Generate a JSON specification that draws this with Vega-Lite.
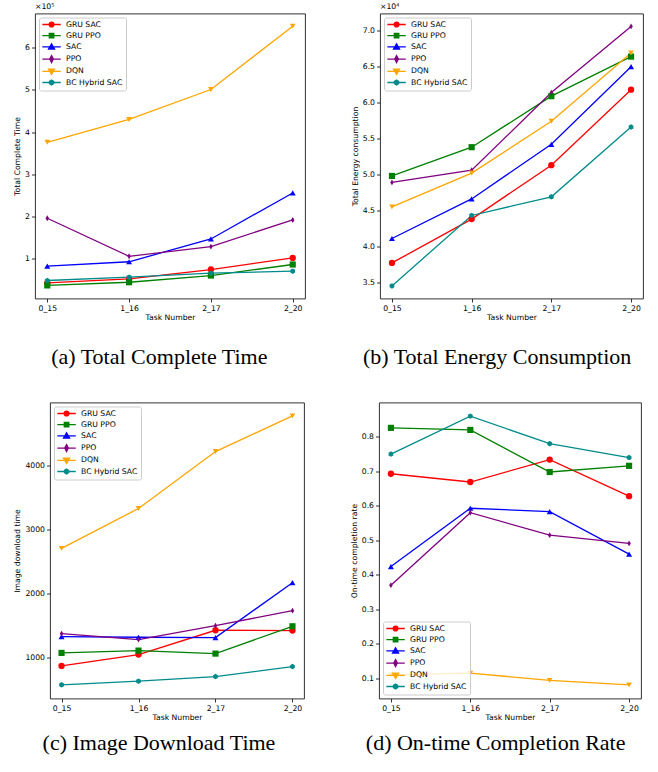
{
  "$schema": "https://vega.github.io/schema/vega-lite/v6.json",
  "padding": {"left": 12, "top": 2.5, "right": 0, "bottom": 0},
  "data": {"values": [
    {"panel":"a","model":"GRU SAC","task":"0_15","value":0.430},
    {"panel":"a","model":"GRU SAC","task":"1_16","value":0.526},
    {"panel":"a","model":"GRU SAC","task":"2_17","value":0.746},
    {"panel":"a","model":"GRU SAC","task":"2_20","value":1.020},
    {"panel":"a","model":"GRU PPO","task":"0_15","value":0.370},
    {"panel":"a","model":"GRU PPO","task":"1_16","value":0.445},
    {"panel":"a","model":"GRU PPO","task":"2_17","value":0.604},
    {"panel":"a","model":"GRU PPO","task":"2_20","value":0.865},
    {"panel":"a","model":"SAC","task":"0_15","value":0.826},
    {"panel":"a","model":"SAC","task":"1_16","value":0.930},
    {"panel":"a","model":"SAC","task":"2_17","value":1.470},
    {"panel":"a","model":"SAC","task":"2_20","value":2.560},
    {"panel":"a","model":"PPO","task":"0_15","value":1.960},
    {"panel":"a","model":"PPO","task":"1_16","value":1.060},
    {"panel":"a","model":"PPO","task":"2_17","value":1.290},
    {"panel":"a","model":"PPO","task":"2_20","value":1.920},
    {"panel":"a","model":"DQN","task":"0_15","value":3.760},
    {"panel":"a","model":"DQN","task":"1_16","value":4.300},
    {"panel":"a","model":"DQN","task":"2_17","value":5.010},
    {"panel":"a","model":"DQN","task":"2_20","value":6.510},
    {"panel":"a","model":"BC Hybrid SAC","task":"0_15","value":0.486},
    {"panel":"a","model":"BC Hybrid SAC","task":"1_16","value":0.564},
    {"panel":"a","model":"BC Hybrid SAC","task":"2_17","value":0.660},
    {"panel":"a","model":"BC Hybrid SAC","task":"2_20","value":0.706},
    {"panel":"b","model":"GRU SAC","task":"0_15","value":3.77},
    {"panel":"b","model":"GRU SAC","task":"1_16","value":4.38},
    {"panel":"b","model":"GRU SAC","task":"2_17","value":5.13},
    {"panel":"b","model":"GRU SAC","task":"2_20","value":6.18},
    {"panel":"b","model":"GRU PPO","task":"0_15","value":4.98},
    {"panel":"b","model":"GRU PPO","task":"1_16","value":5.38},
    {"panel":"b","model":"GRU PPO","task":"2_17","value":6.09},
    {"panel":"b","model":"GRU PPO","task":"2_20","value":6.64},
    {"panel":"b","model":"SAC","task":"0_15","value":4.11},
    {"panel":"b","model":"SAC","task":"1_16","value":4.66},
    {"panel":"b","model":"SAC","task":"2_17","value":5.42},
    {"panel":"b","model":"SAC","task":"2_20","value":6.50},
    {"panel":"b","model":"PPO","task":"0_15","value":4.89},
    {"panel":"b","model":"PPO","task":"1_16","value":5.06},
    {"panel":"b","model":"PPO","task":"2_17","value":6.14},
    {"panel":"b","model":"PPO","task":"2_20","value":7.06},
    {"panel":"b","model":"DQN","task":"0_15","value":4.55},
    {"panel":"b","model":"DQN","task":"1_16","value":5.02},
    {"panel":"b","model":"DQN","task":"2_17","value":5.74},
    {"panel":"b","model":"DQN","task":"2_20","value":6.69},
    {"panel":"b","model":"BC Hybrid SAC","task":"0_15","value":3.45},
    {"panel":"b","model":"BC Hybrid SAC","task":"1_16","value":4.43},
    {"panel":"b","model":"BC Hybrid SAC","task":"2_17","value":4.69},
    {"panel":"b","model":"BC Hybrid SAC","task":"2_20","value":5.66},
    {"panel":"c","model":"GRU SAC","task":"0_15","value":875},
    {"panel":"c","model":"GRU SAC","task":"1_16","value":1052},
    {"panel":"c","model":"GRU SAC","task":"2_17","value":1431},
    {"panel":"c","model":"GRU SAC","task":"2_20","value":1426},
    {"panel":"c","model":"GRU PPO","task":"0_15","value":1078},
    {"panel":"c","model":"GRU PPO","task":"1_16","value":1114},
    {"panel":"c","model":"GRU PPO","task":"2_17","value":1067},
    {"panel":"c","model":"GRU PPO","task":"2_20","value":1493},
    {"panel":"c","model":"SAC","task":"0_15","value":1332},
    {"panel":"c","model":"SAC","task":"1_16","value":1322},
    {"panel":"c","model":"SAC","task":"2_17","value":1317},
    {"panel":"c","model":"SAC","task":"2_20","value":2173},
    {"panel":"c","model":"PPO","task":"0_15","value":1379},
    {"panel":"c","model":"PPO","task":"1_16","value":1285},
    {"panel":"c","model":"PPO","task":"2_17","value":1503},
    {"panel":"c","model":"PPO","task":"2_20","value":1737},
    {"panel":"c","model":"DQN","task":"0_15","value":2707},
    {"panel":"c","model":"DQN","task":"1_16","value":3330},
    {"panel":"c","model":"DQN","task":"2_17","value":4217},
    {"panel":"c","model":"DQN","task":"2_20","value":4773},
    {"panel":"c","model":"BC Hybrid SAC","task":"0_15","value":580},
    {"panel":"c","model":"BC Hybrid SAC","task":"1_16","value":637},
    {"panel":"c","model":"BC Hybrid SAC","task":"2_17","value":709},
    {"panel":"c","model":"BC Hybrid SAC","task":"2_20","value":865},
    {"panel":"d","model":"GRU SAC","task":"0_15","value":0.693},
    {"panel":"d","model":"GRU SAC","task":"1_16","value":0.669},
    {"panel":"d","model":"GRU SAC","task":"2_17","value":0.734},
    {"panel":"d","model":"GRU SAC","task":"2_20","value":0.628},
    {"panel":"d","model":"GRU PPO","task":"0_15","value":0.826},
    {"panel":"d","model":"GRU PPO","task":"1_16","value":0.820},
    {"panel":"d","model":"GRU PPO","task":"2_17","value":0.698},
    {"panel":"d","model":"GRU PPO","task":"2_20","value":0.716},
    {"panel":"d","model":"SAC","task":"0_15","value":0.424},
    {"panel":"d","model":"SAC","task":"1_16","value":0.593},
    {"panel":"d","model":"SAC","task":"2_17","value":0.583},
    {"panel":"d","model":"SAC","task":"2_20","value":0.460},
    {"panel":"d","model":"PPO","task":"0_15","value":0.370},
    {"panel":"d","model":"PPO","task":"1_16","value":0.580},
    {"panel":"d","model":"PPO","task":"2_17","value":0.515},
    {"panel":"d","model":"PPO","task":"2_20","value":0.491},
    {"panel":"d","model":"DQN","task":"0_15","value":0.110},
    {"panel":"d","model":"DQN","task":"1_16","value":0.115},
    {"panel":"d","model":"DQN","task":"2_17","value":0.094},
    {"panel":"d","model":"DQN","task":"2_20","value":0.081},
    {"panel":"d","model":"BC Hybrid SAC","task":"0_15","value":0.750},
    {"panel":"d","model":"BC Hybrid SAC","task":"1_16","value":0.860},
    {"panel":"d","model":"BC Hybrid SAC","task":"2_17","value":0.780},
    {"panel":"d","model":"BC Hybrid SAC","task":"2_20","value":0.740}
  ]},
  "resolve": {"scale": {"x":"independent","y":"independent","color":"independent","shape":"independent","fill":"independent","stroke":"independent","size":"independent"}},
  "columns": 2,
  "align": "none",
  "spacing": {"row": 33, "column": 0},
  "concat": [
    {"width": 1, "height": 1, "view": {"stroke": null}, "transform": [{"filter": "false"}], "mark": "point", "encoding": {}},
    {
      "spacing": 44,
      "resolve": {"scale": {"x":"independent","y":"independent","color":"independent","shape":"independent","fill":"independent","stroke":"independent","size":"independent"}},
      "hconcat": [
        {
          "title": {"text": "(a) Total Complete Time", "orient": "bottom", "anchor": "middle", "frame": "bounds", "font": "Liberation Serif", "fontSize": 22, "fontWeight": "normal", "color": "black", "offset": 25},
          "resolve": {"scale": {"x":"independent","y":"independent","color":"independent","shape":"independent","fill":"independent","stroke":"independent","size":"independent"}},
          "vconcat": [
            {
              "width": 270, "height": 285,
              "transform": [{"filter": "datum.panel === 'a'"}],
              "encoding": {
                "x": {"field": "task", "type": "ordinal", "scale": {"type": "point", "padding": 0.15, "domain": ["0_15","1_16","2_17","2_20"]}, "axis": {"title": "Task Number"}},
                "y": {"field": "value", "type": "quantitative", "scale": {"domain": [0.06, 6.81], "zero": false, "nice": false}, "axis": {"title": "Total Complete Time", "values": [1,2,3,4,5,6], "format": "d"}}
              },
              "resolve": {"scale": {"shape": "independent", "fill": "independent", "stroke": "independent"}},
              "layer": [
                {"mark": {"type": "line", "strokeWidth": 1.3}, "encoding": {"color": {"field": "model", "type": "nominal", "scale": {"domain": ["GRU SAC","GRU PPO","SAC","PPO","DQN","BC Hybrid SAC"], "range": ["#ff0000","#008000","#0000ff","#800080","#ffa500","#008b8b"]}, "legend": null}}},
                {"mark": {"type": "point", "filled": true, "opacity": 1}, "encoding": {
                  "color": {"field": "model", "type": "nominal", "legend": null},
                  "shape": {"field": "model", "type": "nominal", "scale": {"domain": ["GRU SAC","GRU PPO","SAC","PPO","DQN","BC Hybrid SAC"], "range": ["circle","square","triangle-up","M0,-1L0.6,0L0,1L-0.6,0Z","triangle-down","M0,-1L0.866,-0.5L0.866,0.5L0,1L-0.866,0.5L-0.866,-0.5Z"]}, "legend": null},
                  "size": {"field": "model", "type": "nominal", "scale": {"domain": ["GRU SAC","GRU PPO","SAC","PPO","DQN","BC Hybrid SAC"], "range": [40,30,40,44,40,26]}, "legend": null}}},
                {"transform": [{"filter": "datum.model === 'GRU SAC' && datum.task === '0_15'"}], "mark": {"type": "text", "align": "left", "baseline": "bottom", "dx": -12.27, "dy": -2.5, "font": "DejaVu Sans", "fontSize": 7.7, "color": "black"}, "encoding": {"x": {"datum": "0_15"}, "y": {"datum": 6.81}, "text": {"value": "×10⁵"}}},
                {"transform": [{"filter": "false"}], "mark": {"type": "point", "filled": true, "opacity": 1, "strokeWidth": 1.3}, "encoding": {
                  "fill": {"field": "model", "type": "nominal", "scale": {"domain": ["GRU SAC","GRU PPO","SAC","PPO","DQN","BC Hybrid SAC"], "range": ["#ff0000","#008000","#0000ff","#800080","#ffa500","#008b8b"]}, "legend": {"orient": "top-left"}},
                  "stroke": {"field": "model", "type": "nominal", "scale": {"domain": ["GRU SAC","GRU PPO","SAC","PPO","DQN","BC Hybrid SAC"], "range": ["#ff0000","#008000","#0000ff","#800080","#ffa500","#008b8b"]}, "legend": {"orient": "top-left"}},
                  "shape": {"field": "model", "type": "nominal", "scale": {"domain": ["GRU SAC","GRU PPO","SAC","PPO","DQN","BC Hybrid SAC"], "range": ["M-1.22,0H4.92M2.65,0A0.8,0.8 0 1,1 1.05,0A0.8,0.8 0 1,1 2.65,0Z","M-1.22,0H4.92M1.1,-0.75H2.6V0.75H1.1Z","M-1.22,0H4.92M1.85,-1.05L2.85,0.7H0.85Z","M-1.22,0H4.92M1.85,-1.15L2.45,0L1.85,1.15L1.25,0Z","M-1.22,0H4.92M1.85,1.05L2.85,-0.7H0.85Z","M-1.22,0H4.92M1.85,-0.8L2.543,-0.4L2.543,0.4L1.85,0.8L1.157,0.4L1.157,-0.4Z"]}, "legend": {"orient": "top-left"}}}}
              ]
            }
          ]
        },
        {
          "title": {"text": "(b) Total Energy Consumption", "orient": "bottom", "anchor": "middle", "frame": "bounds", "font": "Liberation Serif", "fontSize": 22, "fontWeight": "normal", "color": "black", "offset": 25},
          "resolve": {"scale": {"x":"independent","y":"independent","color":"independent","shape":"independent","fill":"independent","stroke":"independent","size":"independent"}},
          "vconcat": [
            {
              "width": 263, "height": 285,
              "transform": [{"filter": "datum.panel === 'b'"}],
              "encoding": {
                "x": {"field": "task", "type": "ordinal", "scale": {"type": "point", "padding": 0.15, "domain": ["0_15","1_16","2_17","2_20"]}, "axis": {"title": "Task Number"}},
                "y": {"field": "value", "type": "quantitative", "scale": {"domain": [3.275, 7.24], "zero": false, "nice": false}, "axis": {"title": "Total Energy consumption", "values": [3.5,4.0,4.5,5.0,5.5,6.0,6.5,7.0], "format": ".1f"}}
              },
              "resolve": {"scale": {"shape": "independent", "fill": "independent", "stroke": "independent"}},
              "layer": [
                {"mark": {"type": "line", "strokeWidth": 1.3}, "encoding": {"color": {"field": "model", "type": "nominal", "scale": {"domain": ["GRU SAC","GRU PPO","SAC","PPO","DQN","BC Hybrid SAC"], "range": ["#ff0000","#008000","#0000ff","#800080","#ffa500","#008b8b"]}, "legend": null}}},
                {"mark": {"type": "point", "filled": true, "opacity": 1}, "encoding": {
                  "color": {"field": "model", "type": "nominal", "legend": null},
                  "shape": {"field": "model", "type": "nominal", "scale": {"domain": ["GRU SAC","GRU PPO","SAC","PPO","DQN","BC Hybrid SAC"], "range": ["circle","square","triangle-up","M0,-1L0.6,0L0,1L-0.6,0Z","triangle-down","M0,-1L0.866,-0.5L0.866,0.5L0,1L-0.866,0.5L-0.866,-0.5Z"]}, "legend": null},
                  "size": {"field": "model", "type": "nominal", "scale": {"domain": ["GRU SAC","GRU PPO","SAC","PPO","DQN","BC Hybrid SAC"], "range": [40,30,40,44,40,26]}, "legend": null}}},
                {"transform": [{"filter": "datum.model === 'GRU SAC' && datum.task === '0_15'"}], "mark": {"type": "text", "align": "left", "baseline": "bottom", "dx": -11.95, "dy": -2.5, "font": "DejaVu Sans", "fontSize": 7.7, "color": "black"}, "encoding": {"x": {"datum": "0_15"}, "y": {"datum": 7.24}, "text": {"value": "×10⁴"}}},
                {"transform": [{"filter": "false"}], "mark": {"type": "point", "filled": true, "opacity": 1, "strokeWidth": 1.3}, "encoding": {
                  "fill": {"field": "model", "type": "nominal", "scale": {"domain": ["GRU SAC","GRU PPO","SAC","PPO","DQN","BC Hybrid SAC"], "range": ["#ff0000","#008000","#0000ff","#800080","#ffa500","#008b8b"]}, "legend": {"orient": "top-left"}},
                  "stroke": {"field": "model", "type": "nominal", "scale": {"domain": ["GRU SAC","GRU PPO","SAC","PPO","DQN","BC Hybrid SAC"], "range": ["#ff0000","#008000","#0000ff","#800080","#ffa500","#008b8b"]}, "legend": {"orient": "top-left"}},
                  "shape": {"field": "model", "type": "nominal", "scale": {"domain": ["GRU SAC","GRU PPO","SAC","PPO","DQN","BC Hybrid SAC"], "range": ["M-1.22,0H4.92M2.65,0A0.8,0.8 0 1,1 1.05,0A0.8,0.8 0 1,1 2.65,0Z","M-1.22,0H4.92M1.1,-0.75H2.6V0.75H1.1Z","M-1.22,0H4.92M1.85,-1.05L2.85,0.7H0.85Z","M-1.22,0H4.92M1.85,-1.15L2.45,0L1.85,1.15L1.25,0Z","M-1.22,0H4.92M1.85,1.05L2.85,-0.7H0.85Z","M-1.22,0H4.92M1.85,-0.8L2.543,-0.4L2.543,0.4L1.85,0.8L1.157,0.4L1.157,-0.4Z"]}, "legend": {"orient": "top-left"}}}}
              ]
            }
          ]
        }
      ]
    },
    {"width": 1, "height": 1, "view": {"stroke": null}, "transform": [{"filter": "false"}], "mark": "point", "encoding": {}},
    {
      "spacing": 44,
      "resolve": {"scale": {"x":"independent","y":"independent","color":"independent","shape":"independent","fill":"independent","stroke":"independent","size":"independent"}},
      "hconcat": [
        {
          "title": {"text": "(c) Image Download Time", "orient": "bottom", "anchor": "middle", "frame": "bounds", "font": "Liberation Serif", "fontSize": 22, "fontWeight": "normal", "color": "black", "offset": 11},
          "resolve": {"scale": {"x":"independent","y":"independent","color":"independent","shape":"independent","fill":"independent","stroke":"independent","size":"independent"}},
          "vconcat": [
            {
              "width": 254, "height": 296,
              "transform": [{"filter": "datum.panel === 'c'"}],
              "encoding": {
                "x": {"field": "task", "type": "ordinal", "scale": {"type": "point", "padding": 0.15, "domain": ["0_15","1_16","2_17","2_20"]}, "axis": {"title": "Task Number"}},
                "y": {"field": "value", "type": "quantitative", "scale": {"domain": [367, 4982], "zero": false, "nice": false}, "axis": {"title": "Image download time", "values": [1000,2000,3000,4000], "format": "d"}}
              },
              "resolve": {"scale": {"shape": "independent", "fill": "independent", "stroke": "independent"}},
              "layer": [
                {"mark": {"type": "line", "strokeWidth": 1.3}, "encoding": {"color": {"field": "model", "type": "nominal", "scale": {"domain": ["GRU SAC","GRU PPO","SAC","PPO","DQN","BC Hybrid SAC"], "range": ["#ff0000","#008000","#0000ff","#800080","#ffa500","#008b8b"]}, "legend": null}}},
                {"mark": {"type": "point", "filled": true, "opacity": 1}, "encoding": {
                  "color": {"field": "model", "type": "nominal", "legend": null},
                  "shape": {"field": "model", "type": "nominal", "scale": {"domain": ["GRU SAC","GRU PPO","SAC","PPO","DQN","BC Hybrid SAC"], "range": ["circle","square","triangle-up","M0,-1L0.6,0L0,1L-0.6,0Z","triangle-down","M0,-1L0.866,-0.5L0.866,0.5L0,1L-0.866,0.5L-0.866,-0.5Z"]}, "legend": null},
                  "size": {"field": "model", "type": "nominal", "scale": {"domain": ["GRU SAC","GRU PPO","SAC","PPO","DQN","BC Hybrid SAC"], "range": [40,30,40,44,40,26]}, "legend": null}}},
                {"transform": [{"filter": "false"}], "mark": {"type": "point", "filled": true, "opacity": 1, "strokeWidth": 1.3}, "encoding": {
                  "fill": {"field": "model", "type": "nominal", "scale": {"domain": ["GRU SAC","GRU PPO","SAC","PPO","DQN","BC Hybrid SAC"], "range": ["#ff0000","#008000","#0000ff","#800080","#ffa500","#008b8b"]}, "legend": {"orient": "top-left"}},
                  "stroke": {"field": "model", "type": "nominal", "scale": {"domain": ["GRU SAC","GRU PPO","SAC","PPO","DQN","BC Hybrid SAC"], "range": ["#ff0000","#008000","#0000ff","#800080","#ffa500","#008b8b"]}, "legend": {"orient": "top-left"}},
                  "shape": {"field": "model", "type": "nominal", "scale": {"domain": ["GRU SAC","GRU PPO","SAC","PPO","DQN","BC Hybrid SAC"], "range": ["M-1.22,0H4.92M2.65,0A0.8,0.8 0 1,1 1.05,0A0.8,0.8 0 1,1 2.65,0Z","M-1.22,0H4.92M1.1,-0.75H2.6V0.75H1.1Z","M-1.22,0H4.92M1.85,-1.05L2.85,0.7H0.85Z","M-1.22,0H4.92M1.85,-1.15L2.45,0L1.85,1.15L1.25,0Z","M-1.22,0H4.92M1.85,1.05L2.85,-0.7H0.85Z","M-1.22,0H4.92M1.85,-0.8L2.543,-0.4L2.543,0.4L1.85,0.8L1.157,0.4L1.157,-0.4Z"]}, "legend": {"orient": "top-left"}}}}
              ]
            }
          ]
        },
        {
          "title": {"text": "(d) On-time Completion Rate", "orient": "bottom", "anchor": "middle", "frame": "bounds", "font": "Liberation Serif", "fontSize": 22, "fontWeight": "normal", "color": "black", "offset": 11},
          "resolve": {"scale": {"x":"independent","y":"independent","color":"independent","shape":"independent","fill":"independent","stroke":"independent","size":"independent"}},
          "vconcat": [
            {
              "width": 262, "height": 296,
              "transform": [{"filter": "datum.panel === 'd'"}],
              "encoding": {
                "x": {"field": "task", "type": "ordinal", "scale": {"type": "point", "padding": 0.15, "domain": ["0_15","1_16","2_17","2_20"]}, "axis": {"title": "Task Number"}},
                "y": {"field": "value", "type": "quantitative", "scale": {"domain": [0.0415, 0.8995], "zero": false, "nice": false}, "axis": {"title": "On-time completion rate", "values": [0.1,0.2,0.3,0.4,0.5,0.6,0.7,0.8], "format": ".1f"}}
              },
              "resolve": {"scale": {"shape": "independent", "fill": "independent", "stroke": "independent"}},
              "layer": [
                {"mark": {"type": "line", "strokeWidth": 1.3}, "encoding": {"color": {"field": "model", "type": "nominal", "scale": {"domain": ["GRU SAC","GRU PPO","SAC","PPO","DQN","BC Hybrid SAC"], "range": ["#ff0000","#008000","#0000ff","#800080","#ffa500","#008b8b"]}, "legend": null}}},
                {"mark": {"type": "point", "filled": true, "opacity": 1}, "encoding": {
                  "color": {"field": "model", "type": "nominal", "legend": null},
                  "shape": {"field": "model", "type": "nominal", "scale": {"domain": ["GRU SAC","GRU PPO","SAC","PPO","DQN","BC Hybrid SAC"], "range": ["circle","square","triangle-up","M0,-1L0.6,0L0,1L-0.6,0Z","triangle-down","M0,-1L0.866,-0.5L0.866,0.5L0,1L-0.866,0.5L-0.866,-0.5Z"]}, "legend": null},
                  "size": {"field": "model", "type": "nominal", "scale": {"domain": ["GRU SAC","GRU PPO","SAC","PPO","DQN","BC Hybrid SAC"], "range": [40,30,40,44,40,26]}, "legend": null}}},
                {"transform": [{"filter": "false"}], "mark": {"type": "point", "filled": true, "opacity": 1, "strokeWidth": 1.3}, "encoding": {
                  "fill": {"field": "model", "type": "nominal", "scale": {"domain": ["GRU SAC","GRU PPO","SAC","PPO","DQN","BC Hybrid SAC"], "range": ["#ff0000","#008000","#0000ff","#800080","#ffa500","#008b8b"]}, "legend": {"orient": "bottom-left"}},
                  "stroke": {"field": "model", "type": "nominal", "scale": {"domain": ["GRU SAC","GRU PPO","SAC","PPO","DQN","BC Hybrid SAC"], "range": ["#ff0000","#008000","#0000ff","#800080","#ffa500","#008b8b"]}, "legend": {"orient": "bottom-left"}},
                  "shape": {"field": "model", "type": "nominal", "scale": {"domain": ["GRU SAC","GRU PPO","SAC","PPO","DQN","BC Hybrid SAC"], "range": ["M-1.22,0H4.92M2.65,0A0.8,0.8 0 1,1 1.05,0A0.8,0.8 0 1,1 2.65,0Z","M-1.22,0H4.92M1.1,-0.75H2.6V0.75H1.1Z","M-1.22,0H4.92M1.85,-1.05L2.85,0.7H0.85Z","M-1.22,0H4.92M1.85,-1.15L2.45,0L1.85,1.15L1.25,0Z","M-1.22,0H4.92M1.85,1.05L2.85,-0.7H0.85Z","M-1.22,0H4.92M1.85,-0.8L2.543,-0.4L2.543,0.4L1.85,0.8L1.157,0.4L1.157,-0.4Z"]}, "legend": {"orient": "bottom-left"}}}}
              ]
            }
          ]
        }
      ]
    }
  ],
  "config": {
    "font": "DejaVu Sans",
    "background": "white",
    "view": {"stroke": "#1a1a1a", "strokeWidth": 0.9},
    "axis": {"domain": false, "grid": false, "labelFont": "DejaVu Sans", "labelFontSize": 7.7, "labelColor": "black", "tickColor": "black", "tickSize": 3.5, "tickWidth": 0.8, "labelPadding": 2, "titleFont": "DejaVu Sans", "titleFontSize": 7.7, "titleFontWeight": "normal", "titleColor": "black"},
    "axisX": {"labelAngle": 0, "titlePadding": 2},
    "axisY": {"titlePadding": 3},
    "legend": {"title": null, "offset": 4, "padding": 3, "symbolSize": 36, "symbolStrokeWidth": 1.3, "labelFont": "DejaVu Sans", "labelFontSize": 7.7, "labelColor": "black", "labelOffset": 16, "rowPadding": 0.2, "strokeColor": "#cccccc", "fillColor": "rgba(255,255,255,0.8)", "cornerRadius": 2}
  }
}
